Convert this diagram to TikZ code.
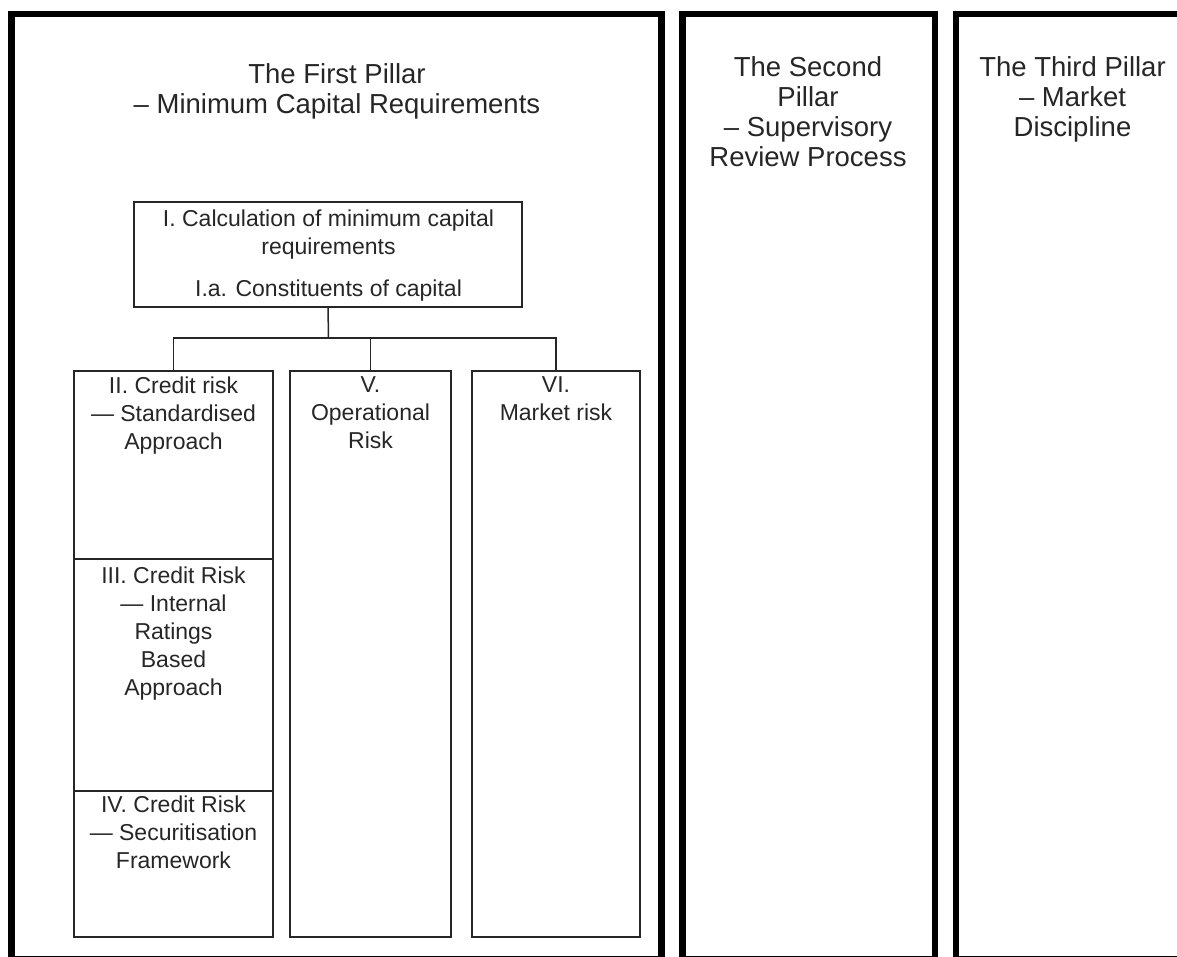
\documentclass[tikz,border=0pt]{standalone}
\usepackage{fontspec}
\setmainfont{Liberation Sans}
\begin{document}
\begin{tikzpicture}[x=1pt,y=-1pt,
  frame/.style={draw=black,line width=6.5pt},
  box/.style={draw=black!85,line width=1.5pt,inner sep=0pt,outer sep=0pt,anchor=north west},
  title/.style={anchor=north,inner sep=0pt,align=center,font=\fontsize{27.5}{30}\selectfont,text=black!85},
  label/.style={anchor=north,inner sep=0pt,align=center,font=\fontsize{23}{28}\selectfont,text=black!85},
  toplabel/.style={label,font=\fontsize{23}{28}\selectfont},
  conn/.style={draw=black!85,line width=1.5pt}]
\useasboundingbox (0,0) rectangle (1177,956);
\clip (0,0) rectangle (1177,956);
% pillar frames
\draw[frame] (11.5,14) rectangle (661.5,959);
\draw[frame] (682.5,14) rectangle (935,959);
\draw[frame] (956,14) rectangle (1210,959);
% titles
\node[title] (p1) at (337,63) {The First Pillar\\– Minimum Capital Requirements};
\node[title] (p2) at (808,56) {The Second\\Pillar\\– Supervisory\\Review Process};
\node[title] (p3) at (1072.5,56) {The Third Pillar\\– Market\\Discipline};
% boxes
\node[box,minimum width=388pt,minimum height=105pt] (top) at (134,202) {};
\node[box,minimum width=199pt,minimum height=188pt] (ii) at (74,371) {};
\node[box,minimum width=199pt,minimum height=232pt] (iii) at (74,559) {};
\node[box,minimum width=199pt,minimum height=146pt] (iv) at (74,791) {};
\node[box,minimum width=161pt,minimum height=566pt] (v) at (290,371) {};
\node[box,minimum width=168pt,minimum height=566pt] (vi) at (472,371) {};
% labels
\node[toplabel] (ltop) at (328.5,209.5) {I. Calculation of minimum capital\\requirements\\[14pt]I.a. Constituents of capital};
\node[label] (lii) at (173.5,376.5) {II. Credit risk\\— Standardised\\Approach};
\node[label] (liii) at (173.5,566.5) {III. Credit Risk\\— Internal\\Ratings\\Based\\Approach};
\node[label] (liv) at (173.5,796) {IV. Credit Risk\\— Securitisation\\Framework};
\node[label] (lv) at (370.5,376.5) {V.\\Operational\\Risk};
\node[label] (lvi) at (556,376.5) {VI.\\Market risk};
% connectors
\coordinate (bus) at (328.5,338);
\draw[conn] (top.south) -- (bus);
\draw[conn] (ii.north) |- (bus) -| (vi.north);
\draw[conn] (v.north) -- (v.north |- bus);
\end{tikzpicture}
\end{document}
